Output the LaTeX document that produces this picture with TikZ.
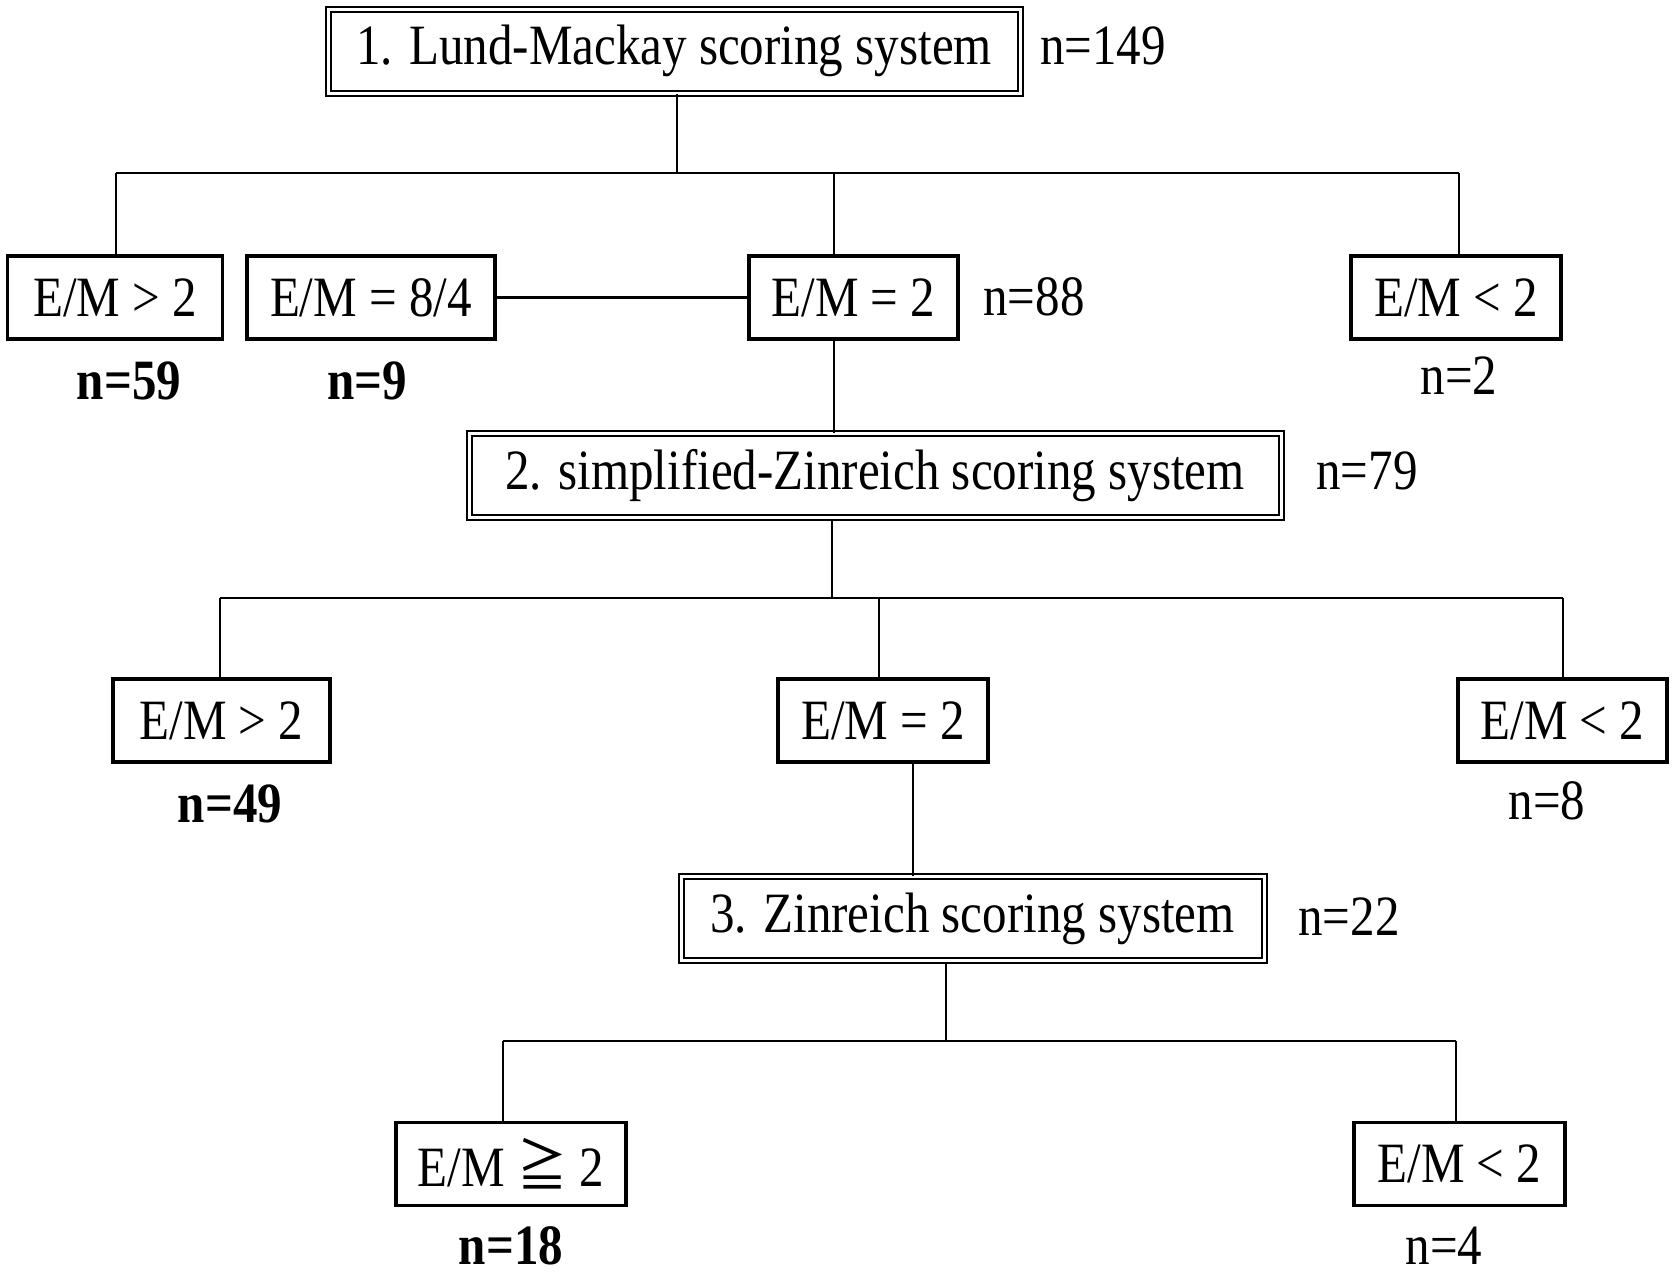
\documentclass[tikz,border=0pt]{standalone}
\usepackage{fontspec}
\setmainfont[FakeStretch=0.86]{Liberation Serif}
\newfontfamily\symfnt[FakeStretch=0.88]{Noto Sans CJK JP}
\begin{document}
\begin{tikzpicture}[x=1pt,y=-1pt,
  every node/.style={font=\fontsize{57}{60}\selectfont},
  box/.style={draw, line width=3.5pt, inner sep=0pt, minimum height=83pt, align=center},
  dbox/.style={draw, double, double distance=3pt, line width=2pt, inner sep=0pt, minimum height=84pt, align=center},
  conn/.style={line width=2.2pt},
  lab/.style={inner sep=0pt},
  blab/.style={inner sep=0pt, font=\fontsize{57}{60}\selectfont\bfseries}]
\fill[white] (0,0) rectangle (1675,1275);
\useasboundingbox (0,0) rectangle (1675,1275);

% level 1
\node[dbox, minimum width=692pt] (top) at (674,51) {1. Lund-Mackay scoring system};
\node[lab] (n149) at (1103,46) {n=149};
\node[box, minimum width=215pt] (a1) at (115,297.5) {E/M > 2};
\node[box, minimum width=248pt] (a2) at (371,297.5) {E/M = 8/4};
\node[box, minimum width=209pt] (a3) at (853.5,297.5) {E/M = 2};
\node[box, minimum width=210pt] (a4) at (1456,297.5) {E/M < 2};
\node[lab] (n88) at (1034,297) {n=88};
\node[blab] (n59) at (129,381) {n=59};
\node[blab] (n9) at (367,381) {n=9};
\node[lab] (n2) at (1459,376) {n=2};

\coordinate (t1) at (677,173);
\coordinate (bl1) at (116,173);
\coordinate (bm1) at (834,173);
\coordinate (br1) at (1459,173);
\draw[conn] (top.south -| t1) -- (t1);
\draw[conn] (bl1) -- (br1);
\draw[conn] (bl1) -- (bl1 |- a1.north);
\draw[conn] (bm1) -- (bm1 |- a3.north);
\draw[conn] (br1) -- (br1 |- a4.north);
\draw[conn] (a2.east) -- (a2.east -| a3.west);

% level 2
\node[dbox, minimum width=812pt] (mid) at (875,475.5) {2. simplified-Zinreich scoring system};
\node[lab] (n79) at (1367,471) {n=79};
\draw[conn] (bm1 |- a3.south) -- (bm1 |- mid.north);

\node[box, minimum width=217pt] (b1) at (221.5,720.5) {E/M > 2};
\node[box, minimum width=210pt] (b2) at (883,720.5) {E/M = 2};
\node[box, minimum width=209pt] (b3) at (1562.5,720.5) {E/M < 2};
\node[blab] (n49) at (230,804) {n=49};
\node[lab] (n8) at (1547,801) {n=8};

\coordinate (t2) at (832,598);
\coordinate (bl2) at (220,598);
\coordinate (bm2) at (879,598);
\coordinate (br2) at (1563,598);
\draw[conn] (mid.south -| t2) -- (t2);
\draw[conn] (bl2) -- (br2);
\draw[conn] (bl2) -- (bl2 |- b1.north);
\draw[conn] (bm2) -- (bm2 |- b2.north);
\draw[conn] (br2) -- (br2 |- b3.north);

% level 3
\node[dbox, minimum width=583pt] (low) at (972.5,918.5) {3. Zinreich scoring system};
\node[lab] (n22) at (1349,917) {n=22};
\coordinate (v3) at (913,876);
\draw[conn] (v3 |- b2.south) -- (v3 |- low.north);

\node[box, minimum width=230pt] (c1) at (511,1164) {E/M {\symfnt ≧} 2};
\node[box, minimum width=211pt] (c2) at (1459.5,1164) {E/M < 2};
\node[blab] (n18) at (511,1246) {n=18};
\node[lab] (n4) at (1444,1246) {n=4};

\coordinate (t3) at (946,1041);
\coordinate (bl3) at (503,1041);
\coordinate (br3) at (1456,1041);
\draw[conn] (low.south -| t3) -- (t3);
\draw[conn] (bl3) -- (br3);
\draw[conn] (bl3) -- (bl3 |- c1.north);
\draw[conn] (br3) -- (br3 |- c2.north);
\end{tikzpicture}
\end{document}
